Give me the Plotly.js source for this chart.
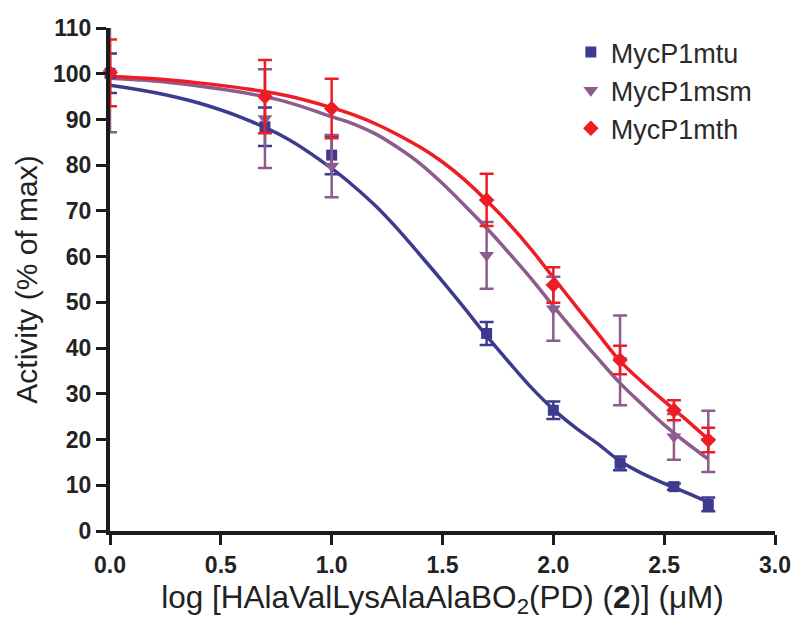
<!DOCTYPE html>
<html>
<head>
<meta charset="utf-8">
<script src="https://cdn.plot.ly/plotly-3.0.1.min.js"></script>
<style>html,body{margin:0;padding:0;background:#fff;}#chart{width:800px;height:629px;}</style>
</head>
<body>
<div id="chart"></div>
<script>
// Measured doses (log µM)
const doseX = [0, 0.699, 1.0, 1.699, 2.0, 2.301, 2.544, 2.699];

// Series means and error (SD)
const mtuY   = [100.1, 88.4, 82.2, 43.2, 26.4, 14.8, 9.7, 5.8];
const mtuErr = [4.3, 4.2, 4.2, 2.5, 1.9, 1.5, 0.7, 1.5];
const msmY   = [100.1, 90.2, 79.8, 60.3, 48.6, 37.3, 20.6, 19.6];
const msmErr = [12.9, 10.8, 6.8, 7.3, 7.0, 9.8, 5.0, 6.7];
const mthY   = [100.2, 95.0, 92.4, 72.4, 53.8, 37.4, 26.4, 19.9];
const mthErr = [7.3, 8.0, 6.5, 5.7, 3.9, 3.1, 2.2, 2.7];

// Fitted curves
const curveX   = [0, 0.2, 0.4, 0.6, 0.8, 1.0, 1.1, 1.2, 1.3, 1.4, 1.5, 1.6, 1.7, 1.8, 1.9, 2.0, 2.1, 2.2, 2.3, 2.4, 2.5, 2.6, 2.7];
const mtuCurve = [97.5, 95.9, 93.6, 90.3, 85.8, 79.3, 75.4, 71.0, 65.9, 60.3, 54.6, 48.7, 42.6, 36.9, 31.4, 26.6, 22.6, 19.1, 15.3, 12.6, 10.4, 8.4, 6.3];
const msmCurve = [99.0, 98.4, 97.3, 95.9, 93.8, 90.6, 89.0, 86.8, 83.8, 80.3, 76.0, 71.2, 66.2, 60.8, 55.2, 49.2, 43.4, 37.8, 32.4, 27.7, 23.2, 19.3, 15.7];
const mthCurve = [99.4, 98.9, 98.0, 96.8, 95.2, 92.6, 91.0, 89.0, 86.6, 83.9, 80.7, 76.8, 72.2, 67.2, 61.6, 55.4, 49.3, 43.2, 37.2, 32.6, 28.4, 24.3, 20.0];

const names  = ['MycP1mtu', 'MycP1msm', 'MycP1mth'];
const colors = ['#3d3b8e', '#8d5c8d', '#ee1d25'];
const symbols = ['square', 'triangle-down', 'diamond'];
const sizes = [11, 13, 12];

const ys = [mtuY, msmY, mthY];
const errs = [mtuErr, msmErr, mthErr];
const curves = [mtuCurve, msmCurve, mthCurve];

const traces = [];
for (let i = 0; i < 3; i++) {
  traces.push({
    x: curveX, y: curves[i], mode: 'lines', type: 'scatter',
    line: {color: colors[i], width: 3.5, shape: 'spline', smoothing: 1},
    showlegend: false, hoverinfo: 'skip'
  });
}
for (let i = 0; i < 3; i++) {
  traces.push({
    x: doseX, y: ys[i], mode: 'markers', type: 'scatter', name: names[i],
    marker: {color: colors[i], symbol: symbols[i], size: sizes[i]},
    error_y: {type: 'data', array: errs[i], visible: true, color: colors[i], thickness: 2.5, width: 7},
    cliponaxis: false
  });
}

const axisCommon = {
  showline: true, linewidth: 4, linecolor: '#1c1c1c',
  ticks: 'outside', ticklen: 10, tickwidth: 3, tickcolor: '#1c1c1c',
  showgrid: false, zeroline: false,
  tickfont: {family: 'Liberation Sans, Arial, sans-serif', size: 23, color: '#222', weight: 'bold'}
};

const layout = {
  width: 800, height: 629,
  margin: {l: 110, r: 25, t: 28, b: 98},
  paper_bgcolor: '#fff', plot_bgcolor: '#fff',
  showlegend: true,
  legend: {
    x: 0.693, y: 1.0, xanchor: 'left', yanchor: 'top',
    font: {family: 'Liberation Sans, Arial, sans-serif', size: 27, color: '#2a2a2a'},
    bgcolor: 'rgba(0,0,0,0)', traceorder: 'normal'
  },
  xaxis: Object.assign({}, axisCommon, {
    range: [0, 3], dtick: 0.5, tick0: 0, tickformat: '.1f',
    title: {text: 'log [HAlaValLysAlaAlaBO<sub>2</sub>(PD) (<b>2</b>)] (μM)',
            font: {family: 'Liberation Sans, Arial, sans-serif', size: 31.5, color: '#222'}, standoff: 10}
  }),
  yaxis: Object.assign({}, axisCommon, {
    range: [0, 110], dtick: 10, tick0: 0,
    title: {text: 'Activity (% of max)',
            font: {family: 'Liberation Sans, Arial, sans-serif', size: 30, color: '#222'}, standoff: 8}
  })
};

Plotly.newPlot('chart', traces, layout, {displayModeBar: false, staticPlot: true});
</script>
</body>
</html>
